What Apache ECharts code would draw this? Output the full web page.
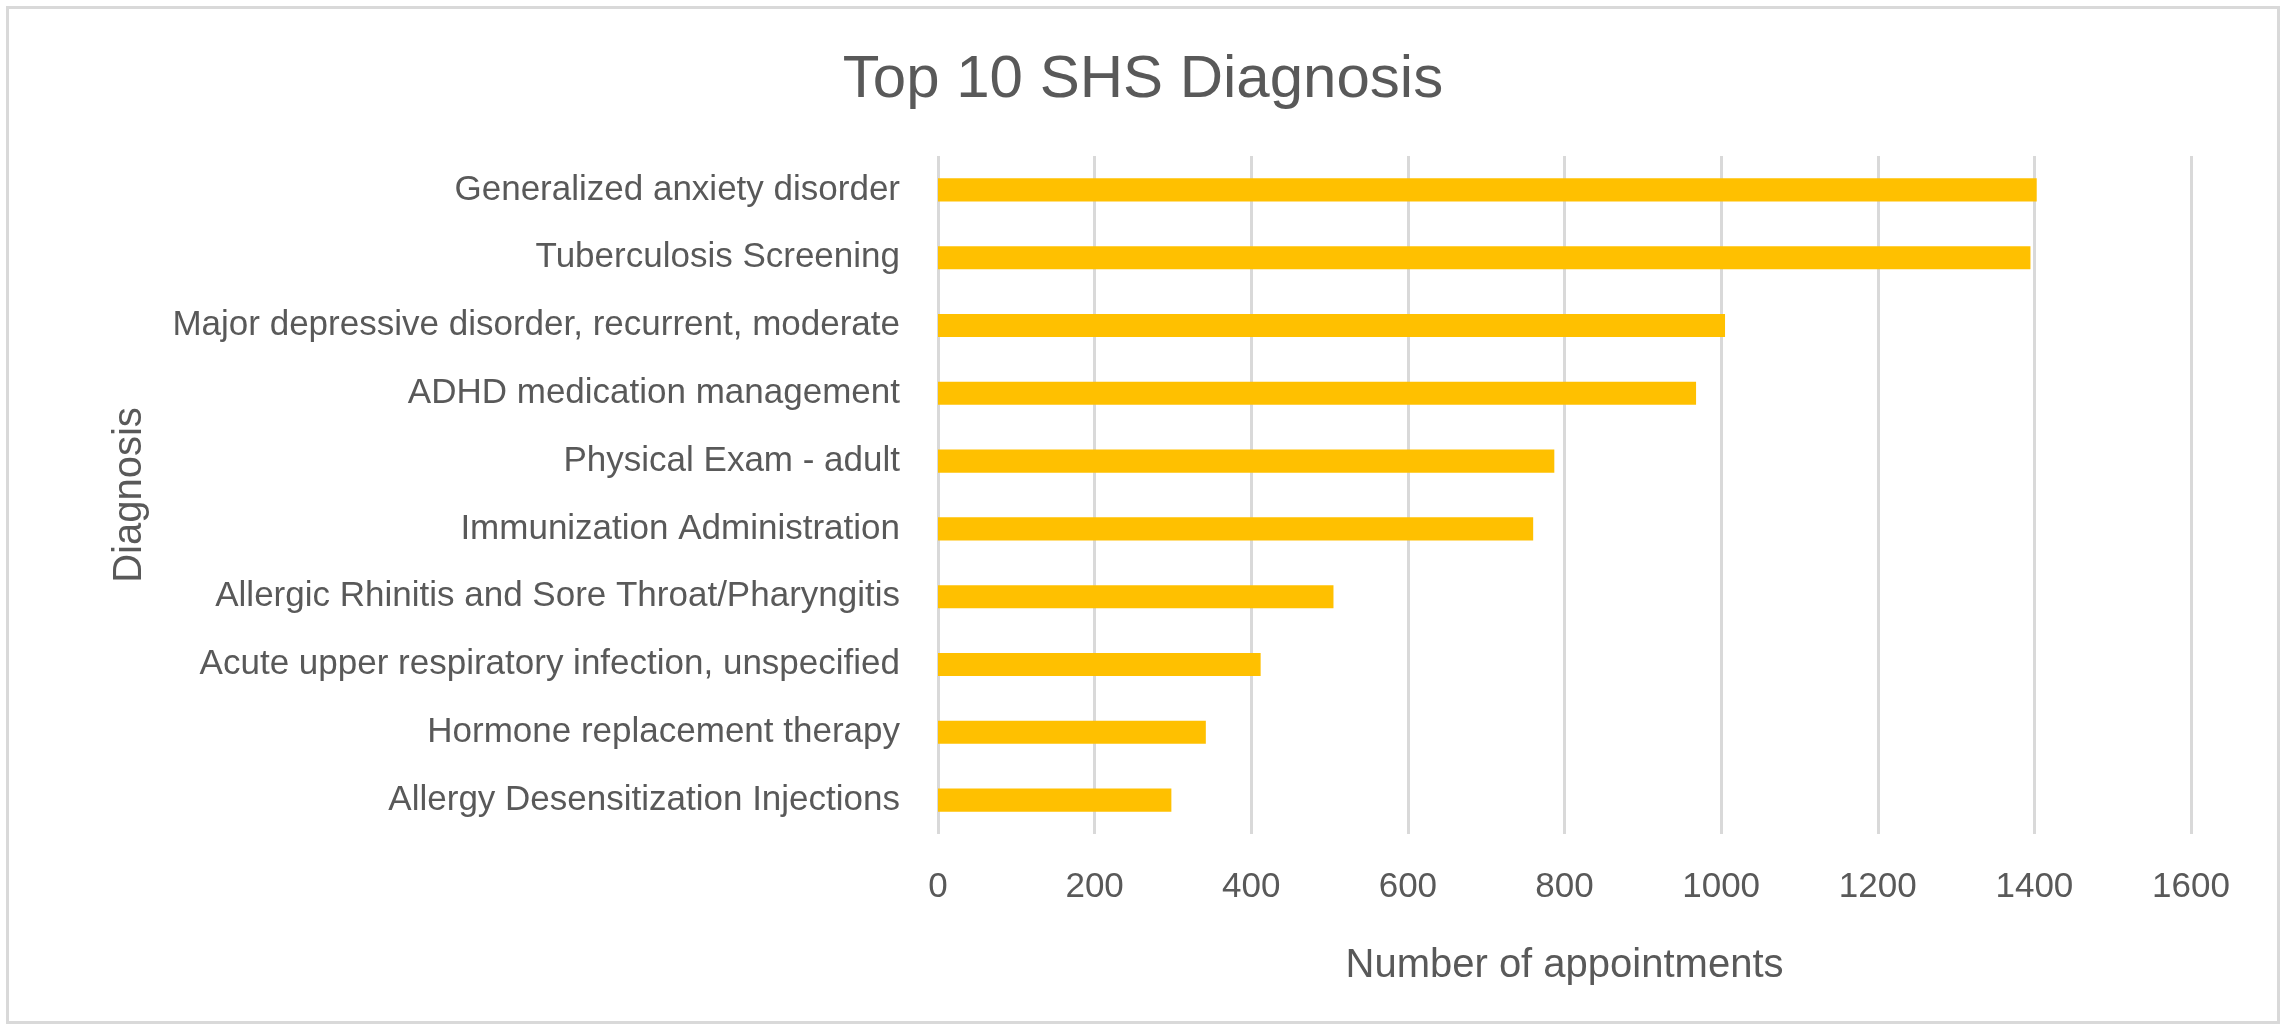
<!DOCTYPE html>
<html>
<head>
<meta charset="utf-8">
<script src="https://cdn.jsdelivr.net/npm/echarts@6/dist/echarts.min.js"></script>
<style>
html,body{margin:0;padding:0;background:#fff;}
#main{position:absolute;left:6px;top:6px;width:2274px;height:1018px;border:3px solid #d9d9d9;box-sizing:border-box;}
</style>
</head>
<body>
<div id="main"></div>
<script>
// 诊断类别（自下而上）
var categories = [
	"Allergy Desensitization Injections",
	"Hormone replacement therapy",
	"Acute upper respiratory infection, unspecified",
	"Allergic Rhinitis and Sore Throat/Pharyngitis",
	"Immunization Administration",
	"Physical Exam - adult",
	"ADHD medication management",
	"Major depressive disorder, recurrent, moderate",
	"Tuberculosis Screening",
	"Generalized anxiety disorder"
];
var values = [298, 342, 412, 505, 760, 787, 968, 1005, 1395, 1403];

var font = "'Liberation Sans', 'DejaVu Sans', sans-serif";
var chart = echarts.init(document.getElementById("main"));
chart.setOption({
	title: {
		text: "Top 10 SHS Diagnosis",
		left: "center",
		top: 36,
		textStyle: {fontFamily: font, fontSize: 60, fontWeight: "normal", color: "#595959"}
	},
	grid: {left: 929, right: 86, top: 147, bottom: 187},
	xAxis: {
		type: "value",
		min: 0,
		max: 1600,
		interval: 200,
		name: "Number of appointments",
		nameLocation: "middle",
		nameGap: 112,
		nameTextStyle: {fontFamily: font, fontSize: 40, color: "#595959"},
		axisLabel: {fontFamily: font, fontSize: 35, color: "#595959", margin: 36,
			formatter: function (v) { return String(v); }},
		axisLine: {show: false},
		axisTick: {show: false},
		splitLine: {lineStyle: {color: "#d9d9d9", width: 3}}
	},
	yAxis: {
		type: "category",
		data: categories,
		name: "Diagnosis",
		nameLocation: "middle",
		nameGap: 788,
		nameTextStyle: {fontFamily: font, fontSize: 40, color: "#595959"},
		axisLabel: {fontFamily: font, fontSize: 35, color: "#595959", margin: 38},
		axisLine: {show: false},
		axisTick: {show: false}
	},
	series: [{
		type: "bar",
		data: values,
		barWidth: "34%",
		itemStyle: {color: "#ffc000"}
	}]
});
</script>
</body>
</html>
